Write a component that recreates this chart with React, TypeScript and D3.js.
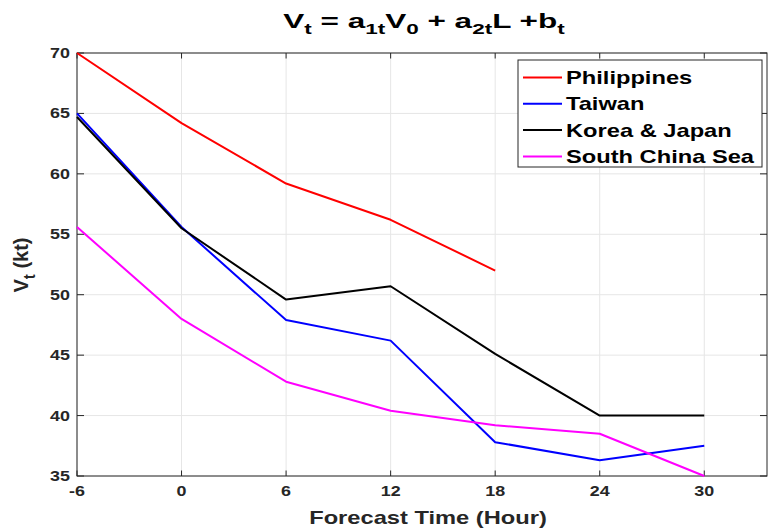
import React from "react";
import * as d3 from "d3";

const hours = [-6, 0, 6, 12, 18, 24, 30];
const philippines = [70, 64.2, 59.2, 56.2, 52.0];
const taiwan = [65, 55.6, 47.9, 46.2, 37.8, 36.3, 37.5];
const koreaJapan = [64.7, 55.5, 49.6, 50.7, 45.1, 40.0, 40.0];
const southChinaSea = [55.6, 48.0, 42.8, 40.4, 39.2, 38.5, 35.0];
const seriesNames = ["Philippines", "Taiwan", "Korea & Japan", "South China Sea"];
const seriesColors = ["#ff0000", "#0000ff", "#000000", "#ff00ff"];
const xTicks = [-6, 0, 6, 12, 18, 24, 30];
const yTicks = [35, 40, 45, 50, 55, 60, 65, 70];

const W = 768;
const H = 529;
const left = 77;
const right = 767;
const top = 53;
const bottom = 476;
const SX = 1.28;
const FONT = "'Liberation Sans', Arial, Helvetica, sans-serif";
const AX = "#262626";

export default function App() {
  const x = d3.scaleLinear().domain([-6, 33.6]).range([left, right]);
  const y = d3.scaleLinear().domain([35, 70]).range([bottom, top]);
  const all = [philippines, taiwan, koreaJapan, southChinaSea];
  const line = d3
    .line<[number, number]>()
    .x((d) => x(d[0]))
    .y((d) => y(d[1]));

  const paths = all.map((vals) => line(vals.map((v, i) => [hours[i], v] as [number, number])) || "");

  const legX = 518;
  const legY = 60;
  const legW = 244;
  const legH = 107;
  const rowY = [77.5, 103.8, 130.1, 156.4];

  return (
    <svg
      width={W}
      height={H}
      style={{ position: "absolute", left: 0, top: 0, background: "#fff" }}
      fontFamily={FONT}
    >
      <rect x={0} y={0} width={W} height={H} fill="#fff" />
      {xTicks.map((t) => (
        <line key={"gx" + t} x1={x(t)} x2={x(t)} y1={top} y2={bottom} stroke="#e6e6e6" strokeWidth={1} />
      ))}
      {yTicks.map((t) => (
        <line key={"gy" + t} x1={left} x2={right} y1={y(t)} y2={y(t)} stroke="#e6e6e6" strokeWidth={1} />
      ))}
      <rect x={left} y={top} width={right - left} height={bottom - top} fill="none" stroke={AX} strokeWidth={1} />
      {xTicks.map((t) => (
        <g key={"tx" + t}>
          <line x1={x(t)} x2={x(t)} y1={bottom} y2={bottom - 5.5} stroke={AX} />
          <line x1={x(t)} x2={x(t)} y1={top} y2={top + 5.5} stroke={AX} />
          <text
            transform={`translate(${x(t)},${bottom + 20}) scale(${SX},1)`}
            textAnchor="middle"
            fontSize={14}
            fontWeight="bold"
            fill={AX}
          >
            {t}
          </text>
        </g>
      ))}
      {yTicks.map((t) => (
        <g key={"ty" + t}>
          <line x1={left} x2={left + 7} y1={y(t)} y2={y(t)} stroke={AX} />
          <line x1={right} x2={right - 7} y1={y(t)} y2={y(t)} stroke={AX} />
          <text
            transform={`translate(${left - 7},${y(t) + 5}) scale(${SX},1)`}
            textAnchor="end"
            fontSize={14}
            fontWeight="bold"
            fill={AX}
          >
            {t}
          </text>
        </g>
      ))}
      {paths.map((p, i) => (
        <path key={"p" + i} d={p} fill="none" stroke={seriesColors[i]} strokeWidth={2} strokeLinejoin="round" />
      ))}
      <rect x={legX} y={legY} width={legW} height={legH} fill="#fff" stroke={AX} strokeWidth={1} />
      {seriesNames.map((n, i) => (
        <g key={"l" + i}>
          <line x1={523} x2={562} y1={rowY[i]} y2={rowY[i]} stroke={seriesColors[i]} strokeWidth={2} />
          <text
            transform={`translate(566,${rowY[i] + 6.6}) scale(${SX},1)`}
            fontSize={18.5}
            fontWeight="bold"
            fill="#000"
          >
            {n}
          </text>
        </g>
      ))}
      <text
        transform={`translate(424,28) scale(1.5,1)`}
        textAnchor="middle"
        fontSize={21}
        fontWeight="bold"
        fill="#000"
      >
        V<tspan fontSize={15} dy={6}>t</tspan>
        <tspan dy={-6}> = a</tspan>
        <tspan fontSize={15} dy={6}>1t</tspan>
        <tspan dy={-6}>V</tspan>
        <tspan fontSize={15} dy={6}>0</tspan>
        <tspan dy={-6}> + a</tspan>
        <tspan fontSize={15} dy={6}>2t</tspan>
        <tspan dy={-6}>L +b</tspan>
        <tspan fontSize={15} dy={6}>t</tspan>
      </text>
      <text
        transform={`translate(428,524) scale(${SX},1)`}
        textAnchor="middle"
        fontSize={18.5}
        fontWeight="bold"
        fill={AX}
      >
        Forecast Time (Hour)
      </text>
      <text
        transform={`translate(28,265) rotate(-90) scale(1,1.05)`}
        textAnchor="middle"
        fontSize={20}
        fontWeight="bold"
        fill={AX}
      >
        V<tspan fontSize={15} dy={7}>t</tspan>
        <tspan dy={-7}> (kt)</tspan>
      </text>
    </svg>
  );
}
